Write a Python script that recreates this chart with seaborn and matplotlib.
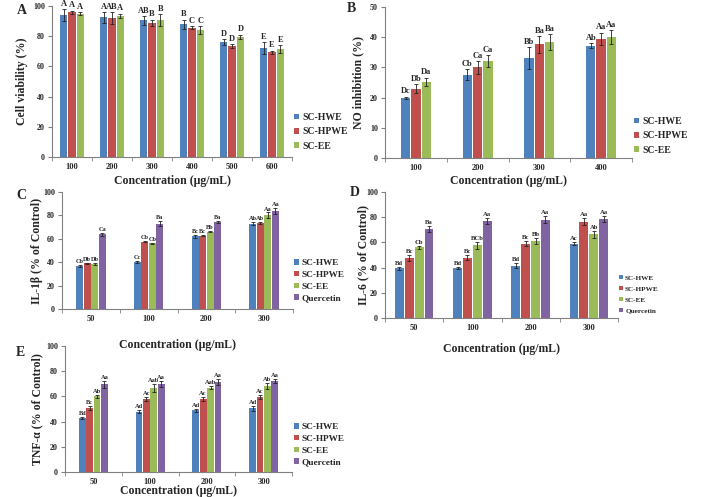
import matplotlib
matplotlib.use("Agg")
import numpy as np
import pandas as pd
import matplotlib.pyplot as plt
import seaborn as sns

W, H = 706, 497

SERIES3 = ["SC-HWE", "SC-HPWE", "SC-EE"]
SERIES4 = ["SC-HWE", "SC-HPWE", "SC-EE", "Quercetin"]
COLORS = ["#4F81BD", "#C0504D", "#9BBB59", "#8064A2"]

# --- A: cell viability ---
VIAB_CONC = ["100", "200", "300", "400", "500", "600"]
VIAB_MEAN = [[94, 92.5, 90.5, 88, 76, 72],
             [96, 92, 89, 85.5, 73.5, 69.5],
             [95, 93.5, 90.5, 84, 79.5, 71.5]]
VIAB_ERR = [[4, 3.5, 3, 3, 2, 4],
            [1, 4, 2, 1, 1.5, 1],
            [1, 1.5, 4, 2.5, 1.5, 2.5]]
VIAB_LET = [["A", "A", "AB", "B", "D", "E"],
            ["A", "AB", "B", "C", "D", "E"],
            ["A", "A", "B", "C", "D", "E"]]

# --- B: NO inhibition ---
NO_CONC = ["100", "200", "300", "400"]
NO_MEAN = [[20, 27.6, 33, 37.2],
           [23, 30, 37.6, 39.5],
           [25.3, 32.2, 38.5, 40.1]]
NO_ERR = [[0.3, 1.8, 3.6, 0.8],
          [1.5, 2.2, 2.8, 2],
          [1.3, 2, 2.6, 2.3]]
NO_LET = [["Dc", "Cb", "Bb", "Ab"],
          ["Db", "Ca", "Ba", "Aa"],
          ["Da", "Ca", "Ba", "Aa"]]

# --- C, D, E: cytokines ---
CYT_CONC = ["50", "100", "200", "300"]
IL1_MEAN = [[37, 40, 62, 73],
            [39, 57.5, 62.7, 73.5],
            [38.7, 56, 66, 80],
            [63.8, 73, 74.5, 83.5]]
IL1_ERR = [[1, 1, 1, 1],
           [0.6, 0.6, 0.6, 1],
           [1, 0.8, 0.6, 2.5],
           [1, 2, 0.8, 2.5]]
IL1_LET = [["Cb", "Cc", "Bc", "Ab"],
           ["Db", "Cb", "Bc", "Ab"],
           ["Db", "Cb", "Bb", "Aa"],
           ["Ca", "Ba", "Ba", "Aa"]]

IL6_MEAN = [[39.3, 40, 41.5, 59],
            [47.5, 48, 59, 76.5],
            [56, 57.7, 61, 66.5],
            [70.5, 77, 78, 78.5]]
IL6_ERR = [[1, 0.8, 1.8, 1],
           [2.5, 2, 2, 2.5],
           [1.2, 3, 2.5, 2.8],
           [2.5, 2.5, 2.8, 2.5]]
IL6_LET = [["Bd", "Bd", "Bd", "Ac"],
           ["Bc", "Bc", "Bc", "Aa"],
           ["Cb", "BCb", "Bb", "Ab"],
           ["Ba", "Aa", "Aa", "Aa"]]

TNF_MEAN = [[43, 48, 49, 50.5],
            [51, 58, 58, 59.5],
            [60, 66.5, 67, 68],
            [69.5, 70, 71.5, 72.5]]
TNF_ERR = [[1, 1.5, 1, 2],
           [1.5, 1.5, 1.5, 1.5],
           [1, 3, 1.5, 2.5],
           [3, 2.5, 2.5, 1.5]]
TNF_LET = [["Bd", "Ad", "Ad", "Ad"],
           ["Bc", "Ac", "Ac", "Ac"],
           ["Ab", "Aab", "Aab", "Ab"],
           ["Aa", "Aa", "Aa", "Aa"]]

sns.set_style("ticks")
plt.rcParams["font.family"] = ["Liberation Serif", "DejaVu Serif"]
plt.rcParams["font.weight"] = "bold"
plt.rcParams["axes.labelweight"] = "bold"

fig = plt.figure(figsize=(W / 100, H / 100), dpi=100)


def px_rect(l, t, r, b):
    return [l / W, 1 - b / H, (r - l) / W, (b - t) / H]


def panel(box, conc, series, means, errs, lets, ylabel, ymax, ystep,
          width, gap, let_size, leg_xy, leg_size, leg_space, ylab_x, xlab_y):
    rows = []
    for s, m, e in zip(series, means, errs):
        for c, mv, ev in zip(conc, m, e):
            rows.append({"conc": c, "series": s, "value": mv, "err": ev})
    df = pd.DataFrame(rows)

    ax = fig.add_axes(px_rect(*box))
    ax.set_facecolor("none")
    sns.barplot(data=df, x="conc", y="value", hue="series", order=conc,
                hue_order=series, palette=COLORS[:len(series)],
                width=width, gap=gap, errorbar=None, linewidth=0,
                saturation=1, ax=ax)

    # error bars + significance letters on top of each bar
    for cont, e_list, l_list in zip(ax.containers, errs, lets):
        for bar, e, l in zip(cont, e_list, l_list):
            x = bar.get_x() + bar.get_width() / 2
            h = bar.get_height()
            ax.errorbar(x, h, yerr=e, color="#222222", elinewidth=0.6,
                        capsize=1.2, capthick=0.6)
            ax.text(x, h + e + ymax * 0.008, l, ha="center", va="bottom",
                    fontsize=let_size, fontweight="bold")

    ax.set_ylim(0, ymax)
    ax.set_yticks(np.arange(0, ymax + 1, ystep))
    ax.set_xlim(-0.5, len(conc) - 0.5)
    ax.set_xticks(range(len(conc)), conc)
    ax.set_xticks(np.arange(-0.5, len(conc), 1.0), minor=True)
    ax.tick_params(axis="x", which="major", length=0, labelsize=6, pad=4)
    ax.tick_params(axis="x", which="minor", length=3, color="#808080",
                   direction="out")
    ax.tick_params(axis="y", length=3, color="#808080", labelsize=5.8,
                   pad=2)
    for lab in ax.get_xticklabels() + ax.get_yticklabels():
        lab.set_fontweight("bold")
    sns.despine(ax=ax)
    for sp in ("left", "bottom"):
        ax.spines[sp].set_color("#808080")
        ax.spines[sp].set_linewidth(0.8)

    ax.set_ylabel(ylabel, fontsize=8.5, fontweight="bold")
    ax.set_xlabel("Concentration (\u03bcg/mL)", fontsize=8.5,
                  fontweight="bold")
    bw = box[2] - box[0]
    bh = box[3] - box[1]
    ax.yaxis.set_label_coords((ylab_x - box[0]) / bw, 0.5)
    ax.xaxis.set_label_coords(0.5, -(xlab_y - box[3]) / bh)

    handles, labels = ax.get_legend_handles_labels()
    ax.legend(handles, labels, loc="upper left",
              bbox_to_anchor=(leg_xy[0] / W, 1 - leg_xy[1] / H),
              bbox_transform=fig.transFigure, frameon=False,
              handlelength=0.55, handleheight=0.55,
              handletextpad=0.3, labelspacing=leg_space, borderpad=0,
              borderaxespad=0, prop={"weight": "bold", "size": leg_size})
    return ax


panel((52, 6, 292, 157), VIAB_CONC, SERIES3, VIAB_MEAN, VIAB_ERR, VIAB_LET,
      "Cell viability (%)", 100, 20, 0.63, 0.12, 6,
      (294, 113), 7, 0.55, 28, 175)
panel((385, 7, 632, 158), NO_CONC, SERIES3, NO_MEAN, NO_ERR, NO_LET,
      "NO inhibition (%)", 50, 10, 0.5, 0.1, 6,
      (634, 117), 7, 0.55, 364, 175)
panel((62, 192, 293, 309), CYT_CONC, SERIES4, IL1_MEAN, IL1_ERR, IL1_LET,
      "IL-1\u03b2 (% of Control)", 100, 20, 0.52, 0.08, 4.5,
      (294, 259), 6.7, 0.4, 43, 339)
panel((385, 192, 618, 318), CYT_CONC, SERIES4, IL6_MEAN, IL6_ERR, IL6_LET,
      "IL-6 (% of Control)", 100, 20, 0.68, 0.1, 4.8,
      (619, 275), 5.2, 0.72, 369, 343)
panel((65, 346, 292, 472), CYT_CONC, SERIES4, TNF_MEAN, TNF_ERR, TNF_LET,
      "TNF-\u03b1 (% of Control)", 100, 20, 0.52, 0.08, 4.6,
      (294, 423), 6.7, 0.4, 43, 485)

for lab, x, y in [("A", 17, 11), ("B", 347, 9), ("C", 16, 196),
                  ("D", 350, 193), ("E", 16, 352)]:
    fig.text(x / W, 1 - y / H, lab, fontsize=10, fontweight="bold",
             ha="left", va="center")

fig.savefig("out.png", dpi=100)
